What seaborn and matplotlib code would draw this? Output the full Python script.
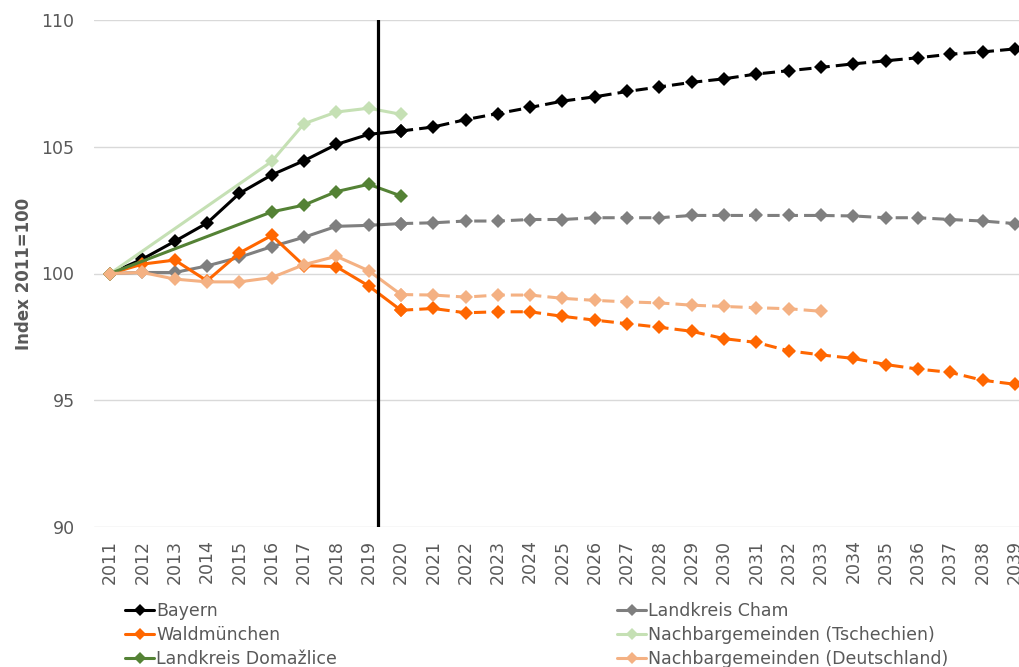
import pandas as pd
import matplotlib.pyplot as plt
from matplotlib.lines import Line2D
import seaborn as sns

# Years on the category axis
years = list(range(2011, 2040))
hist_years = list(range(2011, 2021))
proj_years = list(range(2020, 2040))

# Observed values 2011-2020 (None = no value)
bayern_hist = [100, 100.57, 101.27, 101.99, 103.16, 103.89, 104.45, 105.09, 105.49, 105.62]
cham_hist = [100, 100.04, 100.04, 100.3, 100.64, 101.06, 101.43, 101.86, 101.9, 101.97]
wald_hist = [100, 100.37, 100.53, 99.71, 100.81, 101.5, 100.31, 100.27, 99.51, 98.55]
tsch_hist = [100, None, None, None, None, 104.42, 105.91, 106.37, 106.52, 106.28]
doma_hist = [100, None, None, None, None, 102.43, 102.7, 103.23, 103.52, 103.06]
deut_hist = [100, 100.04, 99.78, 99.67, 99.67, 99.84, 100.35, 100.68, 100.11, 99.17]

# Projections 2020-2039
bayern_proj = [105.62, 105.78, 106.07, 106.31, 106.55, 106.8, 106.97, 107.18, 107.36, 107.54,
               107.68, 107.87, 108.0, 108.13, 108.27, 108.39, 108.51, 108.65, 108.74, 108.86]
cham_proj = [101.97, 102.0, 102.07, 102.07, 102.13, 102.13, 102.2, 102.2, 102.2, 102.29,
             102.29, 102.29, 102.29, 102.29, 102.27, 102.2, 102.2, 102.13, 102.07, 101.97]
wald_proj = [98.55, 98.62, 98.45, 98.49, 98.49, 98.31, 98.16, 98.02, 97.88, 97.72,
             97.43, 97.28, 96.95, 96.79, 96.65, 96.41, 96.23, 96.1, 95.79, 95.63]
deut_proj = [99.17, 99.15, 99.07, 99.15, 99.15, 99.02, 98.94, 98.88, 98.84, 98.75,
             98.7, 98.65, 98.61, 98.51]

series_names = ['Bayern', 'Landkreis Cham', 'Waldmünchen', 'Nachbargemeinden (Tschechien)',
                'Landkreis Domažlice', 'Nachbargemeinden (Deutschland)']
colors = {'Bayern': '#000000', 'Landkreis Cham': '#7f7f7f', 'Waldmünchen': '#ff6600',
          'Nachbargemeinden (Tschechien)': '#c5e0b4', 'Landkreis Domažlice': '#548235',
          'Nachbargemeinden (Deutschland)': '#f4b183'}

hist = {'Bayern': bayern_hist, 'Landkreis Cham': cham_hist, 'Waldmünchen': wald_hist,
        'Nachbargemeinden (Tschechien)': tsch_hist, 'Landkreis Domažlice': doma_hist,
        'Nachbargemeinden (Deutschland)': deut_hist}
proj = {'Bayern': bayern_proj, 'Landkreis Cham': cham_proj, 'Waldmünchen': wald_proj,
        'Nachbargemeinden (Deutschland)': deut_proj}

# Build a long table
rows = []
for name in series_names:
    for y, v in zip(hist_years, hist[name]):
        if v is not None:
            rows.append((name, 'hist', y, v))
    if name in proj:
        for y, v in zip(proj_years, proj[name]):
            rows.append((name, 'proj', y, v))
df = pd.DataFrame(rows, columns=['series', 'phase', 'year', 'value'])

sns.set_style("white")
plt.rcParams['font.family'] = ['DejaVu Sans']
grey_txt = '#595959'

fig = plt.figure(figsize=(10.2, 6.67), dpi=100)
ax = fig.add_axes([94 / 1020, 1 - 527 / 667, (1031 - 94) / 1020, 507 / 667])

sns.lineplot(data=df, x='year', y='value', hue='series', style='phase', hue_order=series_names,
             palette=colors, dashes={'hist': '', 'proj': (4, 2)},
             markers={'hist': 'D', 'proj': 'D'}, markersize=7.5, markeredgewidth=0,
             linewidth=2.2, legend=False, ax=ax)

# Break between observed and projected data
ax.axvline(2019.3, color='black', linewidth=2.3, zorder=5)

ax.set_xlim(2010.5, 2039.5)
ax.set_ylim(90, 110)
ax.set_yticks([90, 95, 100, 105, 110])
ax.set_xticks(years)
ax.set_xticklabels([str(y) for y in years], rotation=90)
ax.grid(axis='y', color='#d9d9d9', linewidth=1)
ax.set_axisbelow(True)
for s in ax.spines.values():
    s.set_visible(False)
ax.tick_params(axis='both', length=0, labelsize=12.5, colors=grey_txt)
ax.tick_params(axis='y', pad=14)
ax.tick_params(axis='x', pad=9)
ax.set_xlabel('')
ax.set_ylabel('Index 2011=100', fontsize=12, fontweight='bold', color=grey_txt, labelpad=6)

# Legend in two columns below the plot
def handle(name):
    return Line2D([], [], color=colors[name], marker='D', markersize=6, linewidth=2.2,
                  markeredgewidth=0)

left = ['Bayern', 'Waldmünchen', 'Landkreis Domažlice']
right = ['Landkreis Cham', 'Nachbargemeinden (Tschechien)', 'Nachbargemeinden (Deutschland)']
leg_kw = dict(frameon=False, fontsize=12.5, labelcolor=grey_txt, handlelength=1.7,
              handletextpad=0.1, labelspacing=0.35, borderaxespad=0, loc='upper left')
fig.legend([handle(n) for n in left], left, bbox_to_anchor=(118 / 1020, 1 - 595 / 667), **leg_kw)
fig.legend([handle(n) for n in right], right, bbox_to_anchor=(610 / 1020, 1 - 595 / 667), **leg_kw)

fig.savefig('out.png', dpi=100)
